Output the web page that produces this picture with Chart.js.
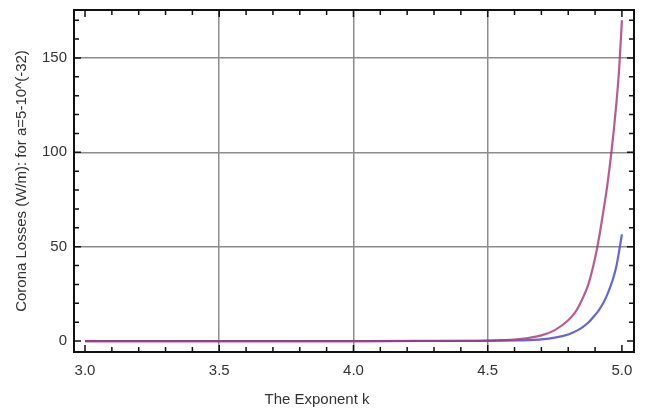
<!DOCTYPE html>
<html>
<head>
<meta charset="utf-8">
<script src="https://cdn.jsdelivr.net/npm/chart.js@4"></script>
<style>
  html, body { margin: 0; padding: 0; background: #fff; }
  #wrap { width: 659px; height: 414px; }
</style>
</head>
<body>
<div id="wrap"><canvas id="coronaChart"></canvas></div>
<script>
// exponent k on the x axis
const kValues = [3.0, 3.25, 3.5, 3.75, 4.0, 4.25, 4.5, 4.55, 4.6, 4.65, 4.7, 4.75, 4.8,
  4.825, 4.85, 4.875, 4.9, 4.915, 4.93, 4.945, 4.96, 4.97, 4.98, 4.99, 5.0];
// corona losses (W/m), upper (magenta) curve
const lossUpper = [0, 0, 0, 0, 0.01, 0.05, 0.3, 0.5, 0.8, 1.6, 3.0, 5.8, 11,
  15, 21.5, 30, 44, 55, 68, 82, 99, 112, 127, 145, 170];
// corona losses (W/m), lower (blue) curve
const lossLower = [0, 0, 0, 0, 0, 0.02, 0.1, 0.2, 0.3, 0.5, 0.9, 1.8, 3.5,
  5, 7, 9.8, 13.8, 16.5, 20, 24.5, 30, 34.5, 40, 48, 56.5];
const xTicks = [3.0, 3.5, 4.0, 4.5, 5.0];
const yTicks = [0, 50, 100, 150];

const font = { family: "'Liberation Sans', Arial, sans-serif", size: 15 };
const textColor = '#333';
const gridColor = '#8c8c8c';

const toPoints = ys => kValues.map((k, i) => ({ x: k, y: ys[i] }));

// black frame with inward minor ticks on all four sides
const framePlugin = {
  id: 'frame',
  afterDatasetsDraw(chart) {
    const { ctx, chartArea: a, scales: { x, y } } = chart;
    ctx.save();
    ctx.strokeStyle = '#111';
    ctx.lineWidth = 1.5;
    ctx.beginPath();
    for (let i = 30; i <= 50; i++) {
      const px = x.getPixelForValue(i / 10);
      const len = i % 5 === 0 ? 7 : 5;
      ctx.moveTo(px, a.bottom); ctx.lineTo(px, a.bottom - len);
      ctx.moveTo(px, a.top); ctx.lineTo(px, a.top + len);
    }
    for (let v = 0; v <= 170; v += 10) {
      const py = y.getPixelForValue(v);
      const len = v % 50 === 0 ? 7 : 5;
      ctx.moveTo(a.left, py); ctx.lineTo(a.left + len, py);
      ctx.moveTo(a.right, py); ctx.lineTo(a.right - len, py);
    }
    ctx.stroke();
    ctx.lineWidth = 2;
    ctx.strokeRect(a.left, a.top, a.right - a.left, a.bottom - a.top);
    ctx.restore();
  }
};

new Chart(document.getElementById('coronaChart'), {
  type: 'line',
  data: {
    datasets: [
      {
        label: 'upper',
        data: toPoints(lossUpper),
        borderColor: 'rgba(165, 50, 120, 0.8)',
        borderWidth: 2.2,
        pointRadius: 0,
        cubicInterpolationMode: 'monotone'
      },
      {
        label: 'lower',
        data: toPoints(lossLower),
        borderColor: 'rgba(85, 85, 205, 0.9)',
        borderWidth: 2.2,
        pointRadius: 0,
        cubicInterpolationMode: 'monotone'
      }
    ]
  },
  options: {
    responsive: true,
    maintainAspectRatio: false,
    animation: false,
    layout: { padding: { left: 0, right: 25, top: 10, bottom: 0 } },
    plugins: {
      legend: { display: false },
      tooltip: { enabled: false },
      title: {
        display: true,
        position: 'bottom',
        text: 'The Exponent k',
        color: textColor,
        font: { ...font, weight: 'normal' },
        padding: { top: 0, bottom: 5 }
      }
    },
    scales: {
      x: {
        type: 'linear',
        min: 2.959,
        max: 5.045,
        afterBuildTicks: s => { s.ticks = xTicks.map(v => ({ value: v })); },
        afterFit: s => { s.height = 39; s.paddingLeft = 0; s.paddingRight = 0; },
        border: { display: false },
        grid: {
          drawTicks: false,
          lineWidth: 1.5,
          color: c => (c.tick && (c.tick.value === 3 || c.tick.value === 5)) ? 'rgba(0,0,0,0)' : gridColor
        },
        ticks: {
          padding: 10,
          color: textColor,
          font: font,
          callback: v => v.toFixed(1)
        }
      },
      y: {
        type: 'linear',
        min: -5.8,
        max: 175.4,
        afterBuildTicks: s => { s.ticks = yTicks.map(v => ({ value: v })); },
        afterFit: s => { s.width = 74; s.paddingTop = 0; s.paddingBottom = 0; },
        border: { display: false },
        grid: {
          drawTicks: false,
          lineWidth: 1.5,
          color: c => (c.tick && c.tick.value === 0) ? 'rgba(0,0,0,0)' : gridColor
        },
        ticks: {
          padding: 7,
          color: textColor,
          font: font
        },
        title: {
          display: true,
          text: 'Corona Losses (W/m): for a=5-10^(-32)',
          color: textColor,
          font: font,
          padding: { top: 13, bottom: 0 }
        }
      }
    }
  },
  plugins: [framePlugin]
});
</script>
</body>
</html>
